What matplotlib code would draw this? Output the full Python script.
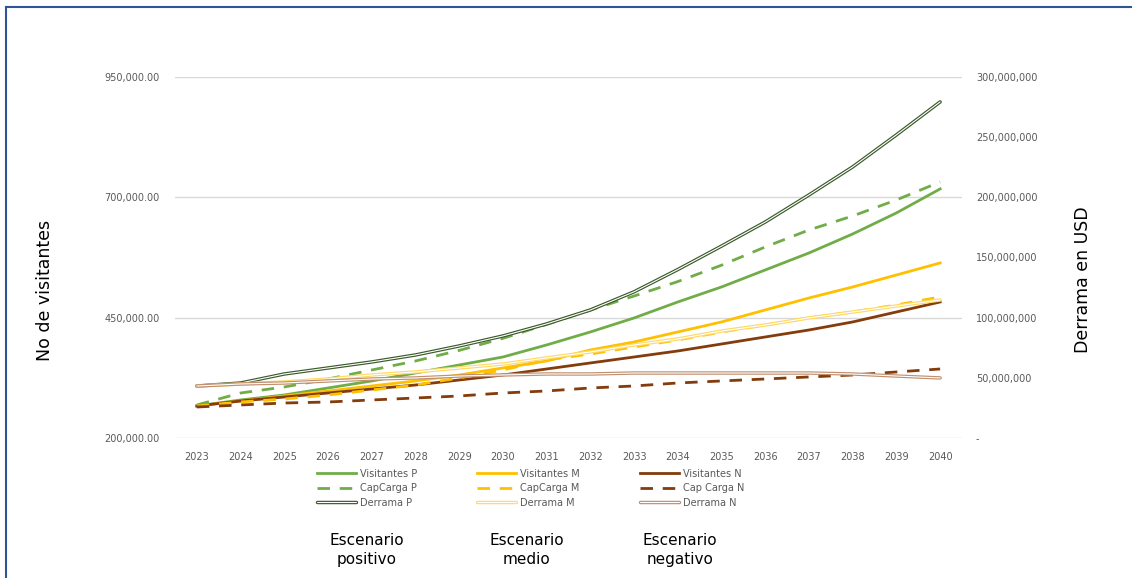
import matplotlib.pyplot as plt
from matplotlib.lines import Line2D
from matplotlib.ticker import FuncFormatter

years = [str(y) for y in range(2023, 2041)]

# visitors (left axis)
visitantes_p = [266500, 279000, 289400, 303900, 318500, 335100, 351700, 368300, 393300,
                420300, 449400, 482600, 513800, 549100, 584400, 623900, 667600, 717500]
visitantes_m = [266500, 276900, 287300, 297700, 308100, 318500, 330900, 345500, 360000,
                382900, 399500, 420300, 441100, 466000, 490900, 513800, 538700, 563700]
visitantes_n = [266500, 276900, 285200, 293500, 301800, 310100, 320500, 330900, 343400,
                355900, 368300, 380800, 395300, 409900, 424400, 441100, 461800, 482600]

capcarga_p = [268600, 293500, 306000, 322600, 341300, 360000, 382000, 407000, 436000,
              466000, 495000, 525000, 559000, 596900, 632200, 661300, 694600, 732000]
capcarga_m = [266500, 274800, 281000, 289400, 299700, 310100, 324700, 341300, 362100,
              374600, 389100, 403700, 420300, 434800, 449400, 461800, 476400, 493000]
capcarga_n = [264400, 268600, 272700, 274800, 279000, 283100, 287300, 293500, 297700,
              303900, 308100, 314300, 318500, 322600, 326800, 330900, 337200, 343400]

# spending in USD (right axis), millions
derrama_p = [43.2, 45.7, 53.2, 58.2, 63.2, 69.0, 76.5, 84.8, 94.8,
             106.4, 121.5, 140.0, 159.5, 179.5, 202.0, 225.3, 251.9, 279.3]
derrama_m = [43.2, 44.9, 46.6, 49.0, 52.4, 54.9, 58.2, 61.5, 66.5,
             71.5, 77.3, 82.3, 88.9, 93.9, 99.8, 104.7, 109.7, 114.7]
derrama_n = [43.2, 44.9, 45.7, 47.4, 49.0, 49.9, 51.5, 52.4, 53.2,
             53.2, 54.0, 54.0, 54.0, 54.0, 54.0, 53.2, 51.5, 49.9]

derrama_p = [v * 1e6 for v in derrama_p]
derrama_m = [v * 1e6 for v in derrama_m]
derrama_n = [v * 1e6 for v in derrama_n]

green = '#70AD47'
yellow = '#FFC000'
brown = '#843C0C'
gray = '#595959'

fig = plt.figure(figsize=(11.32, 5.78), dpi=100)
ax = fig.add_axes([175 / 1132, 1 - 438 / 578, (962 - 175) / 1132, (438 - 77) / 578])
ax2 = ax.twinx()

x = list(range(len(years)))

# primary series
l_vp, = ax.plot(x, visitantes_p, color=green, lw=2.0, label='Visitantes P')
l_vm, = ax.plot(x, visitantes_m, color=yellow, lw=2.0, label='Visitantes M')
l_vn, = ax.plot(x, visitantes_n, color=brown, lw=2.0, label='Visitantes N')
dash = (0, (4.5, 3.5))
l_cp, = ax.plot(x, capcarga_p, color=green, lw=2.0, ls=dash, label='CapCarga P')
l_cm, = ax.plot(x, capcarga_m, color=yellow, lw=2.0, ls=dash, label='CapCarga M')
l_cn, = ax.plot(x, capcarga_n, color=brown, lw=2.0, ls=dash, label='Cap Carga N')

# secondary series drawn as double lines
def double(axis, y, col):
    a, = axis.plot(x, y, color=col, lw=2.5, solid_capstyle='round')
    b, = axis.plot(x, y, color='white', lw=0.8, solid_capstyle='round')
    return (a, b)

h_dp = double(ax2, derrama_p, '#3A5A2A')
h_dm = double(ax2, derrama_m, '#FFD966')
h_dn = double(ax2, derrama_n, '#C09070')

ax.set_xlim(-0.5, len(years) - 0.5)
ax.set_ylim(200000, 950000)
ax.set_yticks([200000, 450000, 700000, 950000])
ax.yaxis.set_major_formatter(FuncFormatter(lambda v, p: f'{v:,.2f}'))
ax2.set_ylim(0, 300e6)
ax2.set_yticks([0, 50e6, 100e6, 150e6, 200e6, 250e6, 300e6])
ax2.yaxis.set_major_formatter(FuncFormatter(lambda v, p: '-' if v == 0 else f'{v:,.0f}'))

ax.set_xticks(x)
ax.set_xticklabels(years)
ax.grid(axis='y', color='#D9D9D9', lw=1)
ax.set_axisbelow(True)

for a in (ax, ax2):
    for s in a.spines.values():
        s.set_visible(False)
    a.tick_params(length=0, labelsize=7, colors=gray)
ax.tick_params(axis='y', pad=11)
ax.tick_params(axis='x', pad=10)
ax2.tick_params(axis='y', pad=10)

fig.text(45 / 1132, 1 - 290 / 578, 'No de visitantes', rotation=90,
         ha='center', va='center', fontsize=12.5)
fig.text(1083 / 1132, 1 - 280 / 578, 'Derrama en USD', rotation=90,
         ha='center', va='center', fontsize=12.5)

handles = [l_vp, l_cp, h_dp, l_vm, l_cm, h_dm, l_vn, l_cn, h_dn]
labels = ['Visitantes P', 'CapCarga P', 'Derrama P',
          'Visitantes M', 'CapCarga M', 'Derrama M',
          'Visitantes N', 'Cap Carga N', 'Derrama N']
leg = fig.legend(handles, labels, ncol=3, loc='upper left',
                 bbox_to_anchor=(308 / 1132, 1 - 460 / 578), frameon=False,
                 fontsize=7, handlelength=4.0, handletextpad=0.4,
                 columnspacing=6.2, labelspacing=0.45)
for t in leg.get_texts():
    t.set_color(gray)

for xx, txt in [(367, 'Escenario\npositivo'), (527, 'Escenario\nmedio'), (680, 'Escenario\nnegativo')]:
    fig.text(xx / 1132, 1 - 550 / 578, txt, ha='center', va='center',
             fontsize=11, linespacing=1.4)

# outer frame (left and top edges visible)
fig.add_artist(Line2D([6 / 1132, 6 / 1132], [0, 1 - 7 / 578], color='#2F5597', lw=1.5,
                      transform=fig.transFigure))
fig.add_artist(Line2D([6 / 1132, 1], [1 - 7 / 578, 1 - 7 / 578], color='#2F5597', lw=1.5,
                      transform=fig.transFigure))

fig.savefig('out.png', dpi=100)
